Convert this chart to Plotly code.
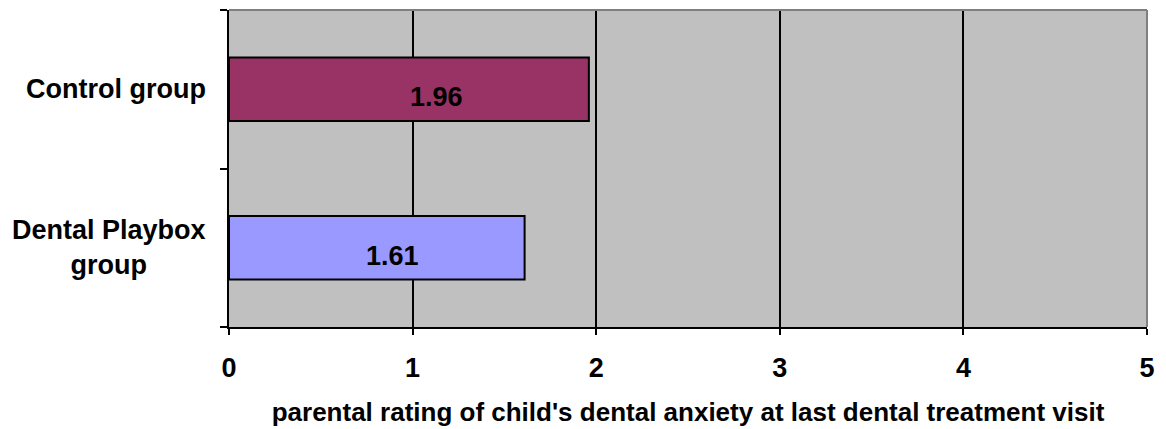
import plotly.graph_objects as go

# Mean parental rating of child's dental anxiety, by study group
groups = ["Dental Playbox group", "Control group"]
group_labels = ["Dental Playbox<br>group", "Control group"]
ratings = [1.61, 1.96]
bar_colors = ["#9999FF", "#993366"]
x_ticks = [0, 1, 2, 3, 4, 5]

FONT = "Liberation Sans, Arial, sans-serif"

fig = go.Figure()
fig.add_trace(go.Bar(
    y=groups,
    x=ratings,
    orientation="h",
    width=0.4,
    marker=dict(color=bar_colors, line=dict(color="black", width=2)),
    hoverinfo="skip",
))

# value labels inside the bars
label_xshift = [16, 28]
for g, v, dx in zip(groups, ratings, label_xshift):
    fig.add_annotation(
        x=v / 2, y=g, xref="x", yref="y",
        text=f"{v:.2f}", showarrow=False,
        xshift=dx, yshift=-8,
        font=dict(family=FONT, size=27, color="black", weight="bold"),
    )

# category labels, centred line by line
for g, lab in zip(groups, group_labels):
    fig.add_annotation(
        x=0, y=g, xref="paper", yref="y",
        text=lab, showarrow=False, align="center",
        xanchor="right", xshift=-21,
        font=dict(family=FONT, size=27, color="black", weight="bold"),
    )

# grey frame on the top and right of the plot area
fig.add_shape(type="line", xref="paper", yref="paper", x0=0, x1=1, y0=1, y1=1,
              line=dict(color="#808080", width=2), layer="above")
fig.add_shape(type="line", xref="paper", yref="paper", x0=1, x1=1, y0=0, y1=1,
              line=dict(color="#808080", width=2), layer="above")

fig.update_layout(
    width=1166, height=429,
    margin=dict(l=229, r=19, t=10, b=102),
    paper_bgcolor="white",
    plot_bgcolor="#C0C0C0",
    showlegend=False,
    bargap=0.6,
    font=dict(family=FONT, size=27, color="black", weight="bold"),
)
fig.update_xaxes(
    range=[0, 5],
    tickvals=x_ticks,
    ticktext=[str(t) for t in x_ticks],
    ticks="outside", ticklen=6, tickwidth=2, tickcolor="black",
    ticklabelstandoff=10,
    automargin=False,
    showline=True, linecolor="black", linewidth=2,
    showgrid=True, gridcolor="black", gridwidth=2,
    zeroline=False,
    tickfont=dict(family=FONT, size=27, color="black", weight="bold"),
    title=dict(
        text="parental rating of child's dental anxiety at last dental treatment visit",
        font=dict(family=FONT, size=26, color="black", weight="bold"),
        standoff=20,
    ),
)
fig.update_yaxes(
    categoryorder="array", categoryarray=groups,
    range=[-0.5, 1.5],
    tickson="boundaries",
    ticks="outside", ticklen=7, tickwidth=2, tickcolor="black",
    showticklabels=False,
    automargin=False,
    showline=True, linecolor="black", linewidth=2,
    showgrid=False, zeroline=False,
)

fig.write_html("out.html")
